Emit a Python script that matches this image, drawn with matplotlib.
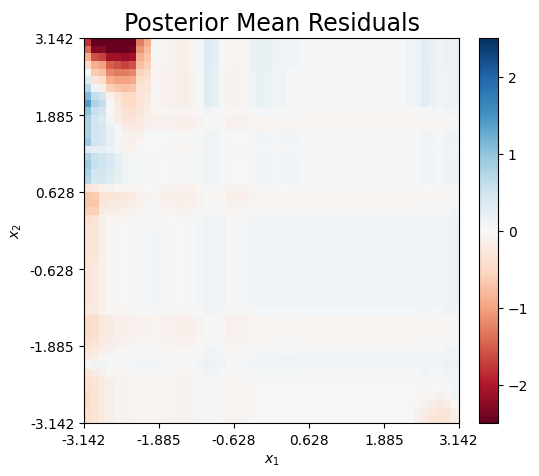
import numpy as np
import matplotlib
matplotlib.use("Agg")
import matplotlib.pyplot as plt

# background row effect (top row first)
row_eff = [0.02, 0.02, 0.02, 0.02, 0.0, 0.0, 0.0, 0.0, 0.0, -0.02,
           -0.08, -0.08, 0.02, 0.02, 0.0, 0.02, 0.02, 0.02, 0.02, -0.06,
           -0.1, -0.08, -0.04, 0.03, 0.05, 0.05, 0.05, 0.05, 0.05, 0.05,
           0.05, 0.05, 0.05, 0.05, 0.04, 0.0, -0.08, -0.08, -0.08, -0.06,
           0.0, 0.03, 0.06, 0.0, -0.04, -0.04, -0.04, -0.04, -0.04, -0.04]

# background column effect (left column first)
col_eff = [0.0, 0.0, 0.0, 0.0, -0.04, -0.04, -0.02, 0.0, 0.0, 0.02,
           -0.03, -0.03, -0.04, -0.05, -0.03, 0.02, 0.08, 0.06, 0.03, -0.03,
           -0.03, -0.02, 0.03, 0.04, 0.04, 0.03, 0.05, 0.05, 0.04, 0.03,
           0.03, 0.03, 0.03, 0.03, 0.03, 0.03, 0.03, 0.03, 0.03, 0.03,
           0.03, 0.03, 0.03, 0.03, 0.03, 0.06, 0.05, 0.03, 0.08, 0.1]

# extra column shading in the top nine rows (cols 10-49)
top_band = [-0.05, -0.08, -0.1, -0.1, -0.05, 0.0, 0.22, 0.14, 0.0, -0.05,
            -0.05, -0.03, 0.1, 0.12, 0.12, 0.08, 0.03, 0.0, 0.0, 0.0,
            0.0, 0.0, 0.0, 0.0, 0.0, 0.0, 0.0, 0.0, 0.0, 0.0,
            0.0, 0.0, 0.0, 0.05, 0.08, 0.2, 0.12, 0.05, 0.05, 0.05]

# top-left block, rows 0-24, cols 0-9
top_left = [
    [-1.8, -2.5, -2.5, -2.5, -2.5, -2.5, -2.5, -1.3, -0.9, 0.05],
    [-1.4, -2.3, -2.3, -2.5, -2.5, -2.5, -2.4, -1.1, -0.8, 0.0],
    [-0.9, -1.6, -1.7, -2.1, -2.1, -2.2, -2.1, -0.9, -0.7, 0.0],
    [-0.5, -0.9, -1.0, -1.5, -1.6, -1.7, -1.6, -0.75, -0.6, -0.05],
    [0.0, -0.65, -0.75, -1.2, -1.3, -1.3, -1.2, -0.55, -0.45, -0.05],
    [0.35, -0.35, -0.45, -0.9, -1.0, -1.0, -0.95, -0.45, -0.35, -0.05],
    [0.7, 0.1, -0.15, -0.6, -0.7, -0.75, -0.7, -0.35, -0.3, 0.0],
    [1.1, 0.6, 0.45, -0.1, -0.35, -0.5, -0.5, -0.35, -0.25, 0.0],
    [1.4, 0.75, 0.6, 0.0, -0.25, -0.45, -0.5, -0.35, -0.2, -0.05],
    [1.0, 0.55, 0.45, 0.0, -0.2, -0.35, -0.4, -0.3, -0.15, -0.05],
    [0.8, 0.45, 0.35, 0.05, -0.15, -0.3, -0.35, -0.25, -0.15, -0.1],
    [0.8, 0.5, 0.4, 0.15, 0.0, -0.2, -0.25, -0.2, -0.1, -0.1],
    [0.8, 0.45, 0.4, 0.2, 0.05, -0.1, -0.15, -0.1, 0.0, 0.0],
    [0.9, 0.45, 0.4, 0.2, 0.05, -0.1, -0.15, -0.05, 0.0, 0.0],
    [0.3, 0.2, 0.2, 0.15, 0.05, -0.1, -0.1, 0.0, 0.0, 0.0],
    [0.8, 0.55, 0.5, 0.4, 0.25, 0.08, 0.0, 0.05, 0.05, 0.05],
    [0.9, 0.55, 0.5, 0.4, 0.25, 0.12, 0.05, 0.05, 0.05, 0.05],
    [0.8, 0.5, 0.45, 0.35, 0.25, 0.12, 0.05, 0.05, 0.05, 0.05],
    [0.7, 0.4, 0.4, 0.3, 0.2, 0.1, 0.05, 0.05, 0.05, 0.05],
    [-0.3, -0.25, -0.1, -0.1, -0.05, -0.05, -0.05, -0.05, 0.0, 0.0],
    [-0.7, -0.65, -0.35, -0.3, -0.3, -0.25, -0.25, -0.1, -0.1, -0.05],
    [-0.7, -0.7, -0.3, -0.25, -0.25, -0.2, -0.15, -0.1, -0.05, 0.0],
    [-0.6, -0.6, -0.2, -0.15, -0.15, -0.1, -0.1, -0.05, 0.0, 0.0],
    [-0.4, -0.35, -0.1, -0.05, -0.05, -0.05, 0.0, 0.0, 0.05, 0.05],
    [-0.3, -0.3, -0.1, -0.05, -0.05, 0.0, 0.05, 0.05, 0.05, 0.05],
]

# left edge, rows 25-49, cols 0-3
left_edge = [
    [-0.3, -0.3, -0.1, -0.05], [-0.3, -0.3, -0.1, -0.05], [-0.3, -0.3, -0.1, -0.05],
    [-0.3, -0.3, -0.1, -0.05], [-0.3, -0.25, -0.1, -0.05], [-0.3, -0.25, -0.1, -0.05],
    [-0.3, -0.25, -0.1, -0.05], [-0.3, -0.25, -0.1, -0.05], [-0.3, -0.25, -0.1, -0.05],
    [-0.3, -0.25, -0.1, -0.05], [-0.25, -0.2, -0.1, -0.05],
    [-0.45, -0.4, -0.25, -0.2], [-0.45, -0.4, -0.25, -0.2], [-0.45, -0.4, -0.25, -0.2],
    [-0.4, -0.35, -0.2, -0.15], [-0.3, -0.25, -0.15, -0.1],
    [-0.2, -0.15, -0.05, 0.0], [0.05, 0.1, 0.08, 0.05], [-0.3, -0.2, -0.1, -0.05],
    [-0.4, -0.35, -0.2, -0.15], [-0.4, -0.35, -0.2, -0.15], [-0.45, -0.35, -0.2, -0.15],
    [-0.45, -0.35, -0.2, -0.15], [-0.4, -0.35, -0.2, -0.15], [-0.4, -0.35, -0.2, -0.15],
]

# bottom-right block, rows 46-49, cols 44-49
bottom_right = [
    [0.0, -0.05, -0.05, -0.1, -0.05, 0.1],
    [-0.05, -0.1, -0.15, -0.2, -0.15, 0.0],
    [-0.1, -0.15, -0.25, -0.3, -0.3, -0.1],
    [-0.1, -0.2, -0.3, -0.35, -0.3, -0.15],
]

Z = np.array(row_eff)[:, None] + np.array(col_eff)[None, :]
Z[0:9, 10:50] += np.array(top_band)[None, :]
Z[0:25, 0:10] = np.array(top_left)
Z[25:50, 0:4] = np.array(left_edge)
Z[46:50, 44:50] = np.array(bottom_right)

fig = plt.figure(figsize=(5.39, 4.77), dpi=100)
ax = fig.add_axes([84 / 539, 53 / 477, 375 / 539, 385 / 477])
cax = fig.add_axes([479 / 539, 53 / 477, 19 / 539, 385 / 477])

im = ax.imshow(Z, cmap="RdBu", vmin=-2.5, vmax=2.5, aspect="auto",
               extent=[-np.pi, np.pi, -np.pi, np.pi], interpolation="nearest")
ticks = np.linspace(-np.pi, np.pi, 6)
ax.set_xticks(ticks)
ax.set_xticklabels(["%.3f" % t for t in ticks])
ax.set_yticks(ticks)
ax.set_yticklabels(["%.3f" % t for t in ticks])
ax.set_xlabel("$x_1$")
ax.set_ylabel("$x_2$")
ax.set_title("Posterior Mean Residuals", fontsize=17)

cb = fig.colorbar(im, cax=cax)
cb.set_ticks([-2, -1, 0, 1, 2])

fig.savefig("out.png", dpi=100)
